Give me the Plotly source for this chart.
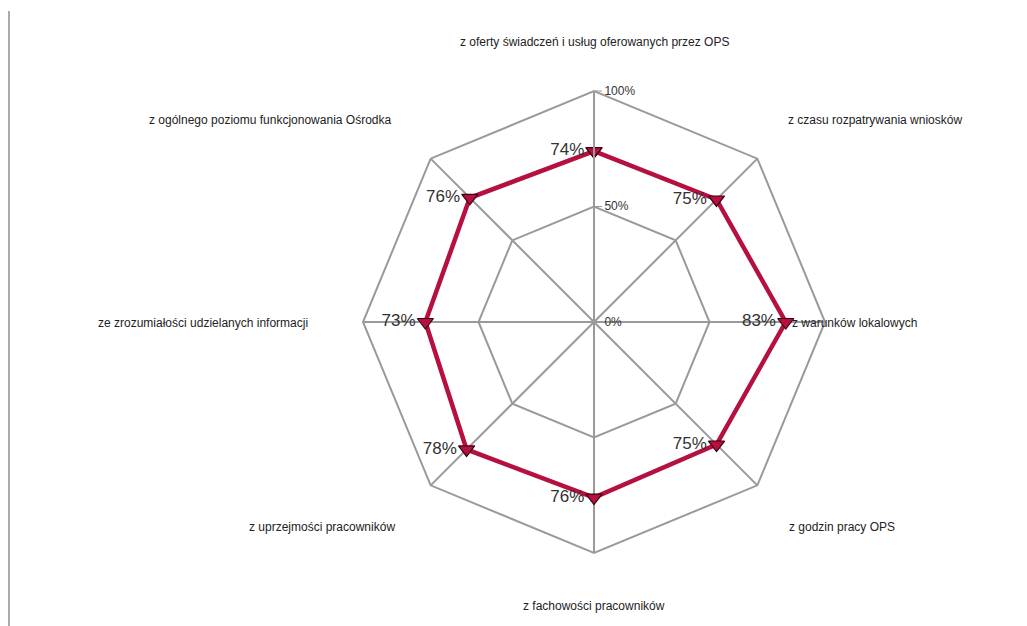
import plotly.graph_objects as go

categories = [
    "z oferty świadczeń i usług oferowanych przez OPS",
    "z czasu rozpatrywania wniosków",
    "z warunków lokalowych",
    "z godzin pracy OPS",
    "z fachowości pracowników",
    "z uprzejmości pracowników",
    "ze zrozumiałości udzielanych informacji",
    "z ogólnego poziomu funkcjonowania Ośrodka",
]
values = [74, 75, 83, 75, 76, 78, 73, 76]
radial_ticks = [0, 50, 100]
radial_tick_labels = ["0%", "50%", "100%"]

W, H = 1027, 626
OFF = 8  # page body offset
cx, cy, R = 594 - OFF, 322 - OFF, 231

# label placement (pixel position in the final picture, anchor)
label_pos = [
    (594, 42, "center"),
    (786, 120, "left"),
    (790, 323, "left"),
    (787, 527, "left"),
    (594, 606, "center"),
    (397, 527, "right"),
    (310, 323, "right"),
    (393, 120, "right"),
]

line_color = "#B5103F"

fig = go.Figure()
fig.add_trace(go.Scatterpolar(
    r=values + values[:1],
    theta=categories + categories[:1],
    mode="lines+markers+text",
    text=[f"{v}%" for v in values] + [""],
    textposition="middle left",
    textfont=dict(family="Liberation Sans, Arial", size=17, color="#333333"),
    line=dict(color=line_color, width=4.5),
    marker=dict(symbol="triangle-down", size=14, color=line_color,
                line=dict(color="#3a0010", width=1.2)),
    cliponaxis=False,
    hoverinfo="skip",
))

fig.update_layout(
    width=W, height=H,
    margin=dict(l=0, r=0, t=0, b=0),
    paper_bgcolor="white",
    showlegend=False,
    polar=dict(
        domain=dict(x=[(cx - R) / W, (cx + R) / W],
                    y=[(H - cy - R) / H, (H - cy + R) / H]),
        gridshape="linear",
        bgcolor="white",
        radialaxis=dict(
            range=[0, 100], tickvals=radial_ticks, ticktext=radial_tick_labels,
            angle=90, tickangle=90, side="clockwise",
            showline=True, linecolor="#9a9a9a", linewidth=2,
            gridcolor="#9a9a9a", gridwidth=2,
            ticks="outside", ticklen=7, tickcolor="#9a9a9a",
            tickfont=dict(family="Liberation Sans, Arial", size=12, color="#333333"),
        ),
        angularaxis=dict(
            direction="clockwise", rotation=90,
            showticklabels=False,
            showline=True, linecolor="#9a9a9a", linewidth=2,
            gridcolor="#9a9a9a", gridwidth=2,
            ticks="",
        ),
    ),
)

for (px, py, anchor), name in zip(label_pos, categories):
    fig.add_annotation(
        x=(px - OFF) / W, y=1 - (py - OFF) / H, xref="paper", yref="paper",
        text=name, showarrow=False, xanchor=anchor, yanchor="middle",
        font=dict(family="Liberation Sans, Arial", size=12, color="#222222"),
    )

fig.add_shape(type="line", xref="paper", yref="paper",
              x0=1 / W, x1=1 / W, y0=1 - 3 / H, y1=0,
              line=dict(color="#aaaaaa", width=2))

fig.write_html("out.html")
